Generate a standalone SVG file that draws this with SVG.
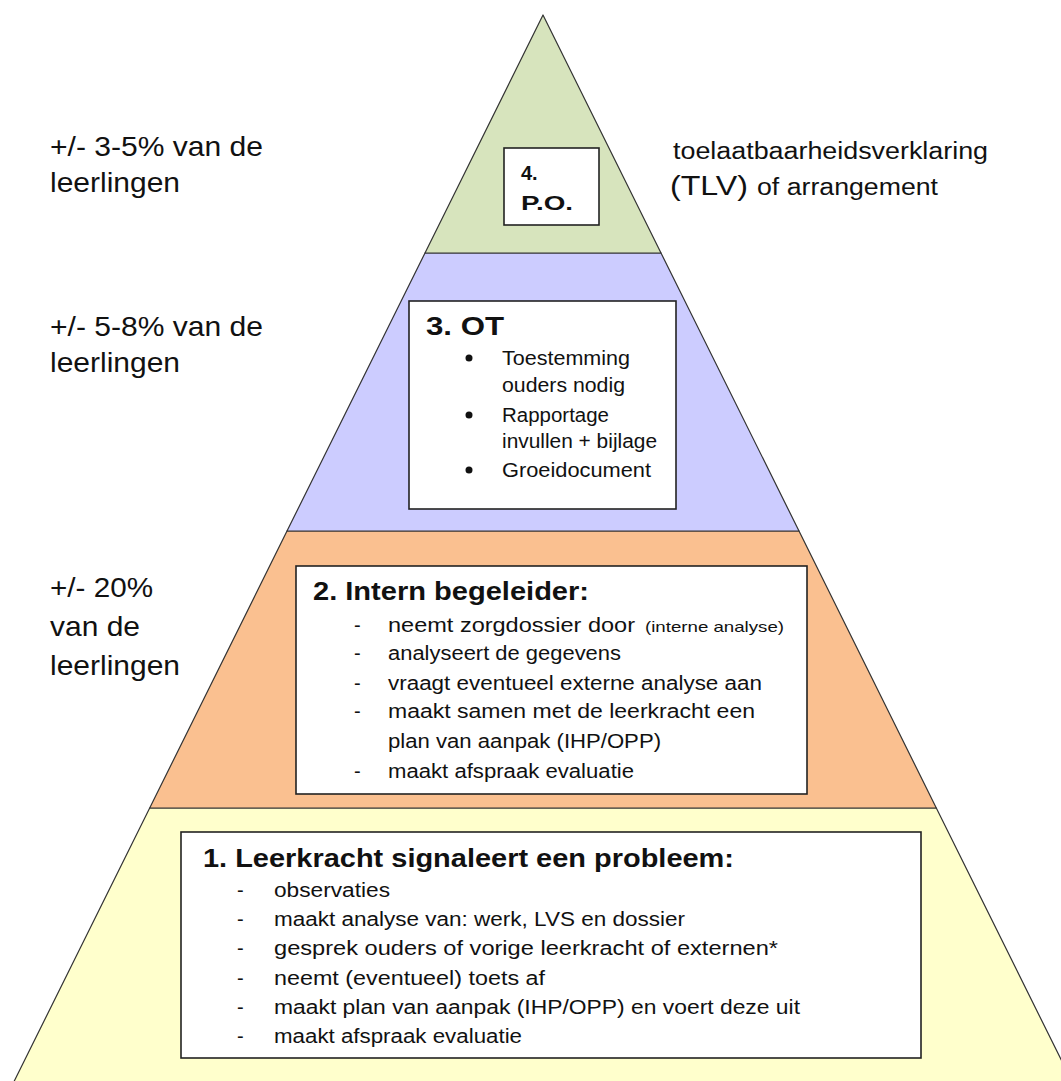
<svg xmlns="http://www.w3.org/2000/svg" width="1061" height="1081" viewBox="0 0 1061 1081">
<style>
  .tier { stroke: #333; stroke-width: 1.2; stroke-linejoin: round; }
  .box { fill: #fff; stroke: #222; stroke-width: 1.6; }
  text { font-family: "Liberation Sans", Arial, sans-serif; fill: #111; }
  .lbl { font-size: 28px; }
  .rt { font-size: 23px; }
  .ttl { font-weight: bold; }
  .item { font-size: 20px; }
</style>
<rect x="0" y="0" width="1061" height="1081" fill="#fff"/>
<g id="tier-1">
  <polygon class="tier" points="149.7,808 936.3,808 1072.7,1083 13.3,1083" fill="#ffffcc"/>
</g>
<g id="tier-2">
  <polygon class="tier" points="287,531 799,531 936.3,808 149.7,808" fill="#fac090"/>
</g>
<g id="tier-3">
  <polygon class="tier" points="425,253 661,253 799,531 287,531" fill="#ccccff"/>
</g>
<g id="tier-4">
  <polygon class="tier" points="543,15 661,253 425,253" fill="#d7e4bd"/>
</g>

<g id="box-4">
  <rect class="box" x="504" y="148" width="95" height="77"/>
  <text class="ttl" x="521" y="180" font-size="20">4.</text>
  <text class="ttl" x="521" y="210" font-size="20" textLength="52" lengthAdjust="spacingAndGlyphs">P.O.</text>
</g>

<g id="box-3">
  <rect class="box" x="409" y="301" width="267" height="208"/>
  <text class="ttl" x="426" y="335" font-size="26" textLength="78" lengthAdjust="spacingAndGlyphs">3. OT</text>
  <circle cx="469" cy="358" r="3.5" fill="#111"/>
  <circle cx="469" cy="415" r="3.5" fill="#111"/>
  <circle cx="469" cy="470" r="3.5" fill="#111"/>
  <text class="item" x="502" y="365" textLength="128" lengthAdjust="spacingAndGlyphs">Toestemming</text>
  <text class="item" x="502" y="392" textLength="123" lengthAdjust="spacingAndGlyphs">ouders nodig</text>
  <text class="item" x="502" y="422" textLength="107" lengthAdjust="spacingAndGlyphs">Rapportage</text>
  <text class="item" x="502" y="448" textLength="155" lengthAdjust="spacingAndGlyphs">invullen + bijlage</text>
  <text class="item" x="502" y="477" textLength="149" lengthAdjust="spacingAndGlyphs">Groeidocument</text>
</g>

<g id="box-2">
  <rect class="box" x="296" y="566" width="511" height="228"/>
  <text class="ttl" x="313" y="600" font-size="25" textLength="276" lengthAdjust="spacingAndGlyphs">2. Intern begeleider:</text>
  <g class="item">
    <text class="item" x="354" y="632">-</text>
    <text class="item" x="354" y="660">-</text>
    <text class="item" x="354" y="690">-</text>
    <text class="item" x="354" y="718">-</text>
    <text class="item" x="354" y="778">-</text>
  </g>
  <text class="item" x="388" y="632" textLength="247" lengthAdjust="spacingAndGlyphs">neemt zorgdossier door</text>
  <text x="645" y="632" font-size="15" textLength="139" lengthAdjust="spacingAndGlyphs">(interne analyse)</text>
  <text class="item" x="388" y="660" textLength="233" lengthAdjust="spacingAndGlyphs">analyseert de gegevens</text>
  <text class="item" x="388" y="690" textLength="374" lengthAdjust="spacingAndGlyphs">vraagt eventueel externe analyse aan</text>
  <text class="item" x="388" y="718" textLength="367" lengthAdjust="spacingAndGlyphs">maakt samen met de leerkracht een</text>
  <text class="item" x="388" y="748" textLength="273" lengthAdjust="spacingAndGlyphs">plan van aanpak (IHP/OPP)</text>
  <text class="item" x="388" y="778" textLength="246" lengthAdjust="spacingAndGlyphs">maakt afspraak evaluatie</text>
</g>

<g id="box-1">
  <rect class="box" x="181" y="832" width="740" height="226"/>
  <text class="ttl" x="203" y="867" font-size="26" textLength="531" lengthAdjust="spacingAndGlyphs">1. Leerkracht signaleert een probleem:</text>
  <text class="item" x="237" y="897">-</text>
  <text class="item" x="237" y="926">-</text>
  <text class="item" x="237" y="955">-</text>
  <text class="item" x="237" y="985">-</text>
  <text class="item" x="237" y="1014">-</text>
  <text class="item" x="237" y="1043">-</text>
  <text class="item" x="274" y="897" textLength="116" lengthAdjust="spacingAndGlyphs">observaties</text>
  <text class="item" x="274" y="926" textLength="411" lengthAdjust="spacingAndGlyphs">maakt analyse van: werk, LVS en dossier</text>
  <text class="item" x="274" y="955" textLength="504" lengthAdjust="spacingAndGlyphs">gesprek ouders of vorige leerkracht of externen*</text>
  <text class="item" x="274" y="985" textLength="271" lengthAdjust="spacingAndGlyphs">neemt (eventueel) toets af</text>
  <text class="item" x="274" y="1014" textLength="526" lengthAdjust="spacingAndGlyphs">maakt plan van aanpak (IHP/OPP) en voert deze uit</text>
  <text class="item" x="274" y="1043" textLength="248" lengthAdjust="spacingAndGlyphs">maakt afspraak evaluatie</text>
</g>

<g id="left-labels">
  <text class="lbl" x="50" y="156" textLength="213" lengthAdjust="spacingAndGlyphs">+/- 3-5% van de</text>
  <text class="lbl" x="50" y="192" textLength="130" lengthAdjust="spacingAndGlyphs">leerlingen</text>
  <text class="lbl" x="50" y="336" textLength="213" lengthAdjust="spacingAndGlyphs">+/- 5-8% van de</text>
  <text class="lbl" x="50" y="372" textLength="130" lengthAdjust="spacingAndGlyphs">leerlingen</text>
  <text class="lbl" x="50" y="597" textLength="103" lengthAdjust="spacingAndGlyphs">+/- 20%</text>
  <text class="lbl" x="50" y="636" textLength="90" lengthAdjust="spacingAndGlyphs">van de</text>
  <text class="lbl" x="50" y="675" textLength="130" lengthAdjust="spacingAndGlyphs">leerlingen</text>
</g>

<g id="right-label">
  <text class="rt" x="673" y="159" textLength="315" lengthAdjust="spacingAndGlyphs">toelaatbaarheidsverklaring</text>
  <text x="670" y="195" font-size="28" textLength="78" lengthAdjust="spacingAndGlyphs">(TLV)</text>
  <text class="rt" x="757" y="195" textLength="181" lengthAdjust="spacingAndGlyphs">of arrangement</text>
</g>
</svg>
